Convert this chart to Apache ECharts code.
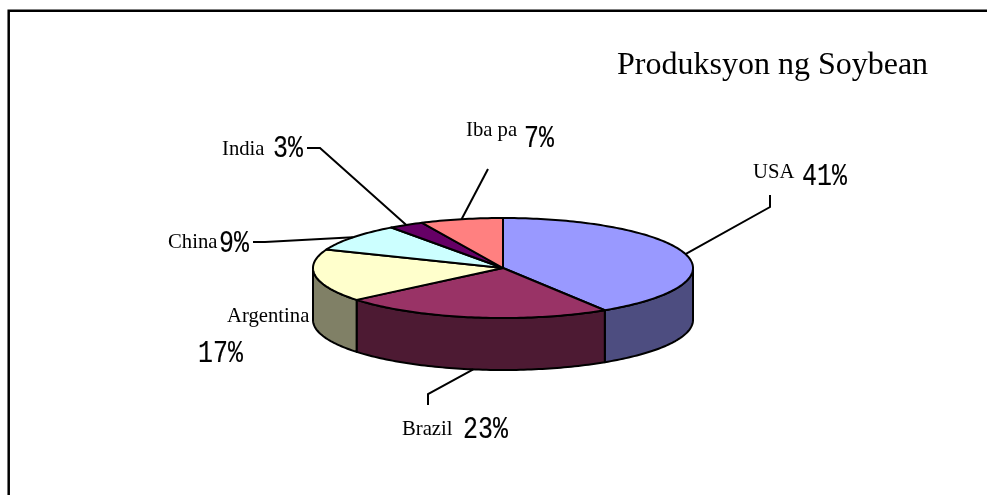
<!DOCTYPE html>
<html>
<head>
<meta charset="utf-8">
<style>html,body{margin:0;padding:0;background:#fff}#c{width:987px;height:495px}</style>
<script src="https://cdn.jsdelivr.net/npm/echarts@6/dist/echarts.min.js"></script>
</head>
<body>
<div id="c"></div>
<script>
const categories = ['USA', 'Brazil', 'Argentina', 'China', 'India', 'Iba pa'];
const shares = [41, 23, 17, 9, 3, 7];
const topColors = ['#9999FF', '#993366', '#FFFFCC', '#CCFFFF', '#660066', '#FF8080'];
const wallColors = ['#4D4D80', '#4D1A33', '#808066', '#668080', '#330033', '#804040'];
const chartTitle = 'Produksyon ng Soybean';

// Label and leader layout, kept apart from the data
const labelLayout = [
  {nameX: 753, nameY: 179, pctX: 802, pctY: 186, leader: [[770, 207], [770, 195]]},
  {nameX: 402, nameY: 436, pctX: 463, pctY: 439, leader: [[428, 394], [428, 405]]},
  {nameX: 227, nameY: 323, pctX: 198, pctY: 363, leader: null},
  {nameX: 168, nameY: 249, pctX: 219, pctY: 253, leader: [[265, 242], [253, 242]]},
  {nameX: 222, nameY: 156, pctX: 273, pctY: 158, leader: [[320, 148], [307, 148]]},
  {nameX: 466, nameY: 137, pctX: 524, pctY: 148, leader: [[488, 169]]}
];

const CX = 503, CY = 268, RX = 190, RY = 50, DEPTH = 52;
const INK = '#000';
const total = shares.reduce((a, b) => a + b, 0);

function angleAt(i) {
  let s = 0;
  for (let k = 0; k < i; k++) s += shares[k];
  return s / total * Math.PI * 2;
}
function rim(a, dz) {
  return [CX + RX * Math.sin(a), CY - RY * Math.cos(a) + (dz || 0)];
}
function arc(a0, a1, dz) {
  const n = Math.max(2, Math.ceil((a1 - a0) / 0.02));
  const pts = [];
  for (let j = 0; j <= n; j++) pts.push(rim(a0 + (a1 - a0) * j / n, dz));
  return pts;
}
const edge = {stroke: INK, lineWidth: 2, lineJoin: 'round'};

function renderWall(params, api) {
  const i = api.value(2);
  const a0 = Math.max(angleAt(i), Math.PI / 2);
  const a1 = Math.min(angleAt(i + 1), Math.PI * 1.5);
  if (a1 <= a0) return {type: 'group', children: []};
  return {
    type: 'polygon',
    shape: {points: arc(a0, a1, 0).concat(arc(a0, a1, DEPTH).reverse())},
    style: Object.assign({fill: wallColors[i]}, edge)
  };
}
function renderTop(params, api) {
  const i = api.value(2);
  return {
    type: 'polygon',
    shape: {points: [[CX, CY]].concat(arc(angleAt(i), angleAt(i + 1), 0))},
    style: Object.assign({fill: topColors[i]}, edge)
  };
}
function textEl(str, x, baseline, font, size, sx, heavy) {
  const style = {text: str, x: 0, y: 0, fill: INK, fontFamily: font, fontSize: size,
                 align: 'left', verticalAlign: 'middle'};
  if (heavy) { style.stroke = INK; style.lineWidth = heavy; }
  return {type: 'text', x: x, y: baseline - size * 0.3, scaleX: sx || 1, style: style};
}
function renderLabel(params, api) {
  const i = api.value(2);
  const L = labelLayout[i];
  const kids = [
    textEl(categories[i], L.nameX, L.nameY, '"Liberation Serif"', 20.7),
    textEl(api.value(1) + '%', L.pctX, L.pctY, '"Liberation Mono"', 32, 0.78, 0.15)
  ];
  if (L.leader) {
    const mid = (angleAt(i) + angleAt(i + 1)) / 2;
    const start = rim(mid, Math.cos(mid) < 0 ? DEPTH : 0);
    kids.push({
      type: 'polyline',
      shape: {points: [start].concat(L.leader)},
      style: {stroke: INK, lineWidth: 2, fill: null, lineJoin: 'miter'}
    });
  }
  return {type: 'group', children: kids};
}

const rows = categories.map((c, i) => [c, shares[i], i]);
const chart = echarts.init(document.getElementById('c'), null, {renderer: 'canvas'});
chart.setOption({
  animation: false,
  backgroundColor: '#fff',
  title: {
    text: chartTitle, left: 617, top: 50, padding: 0,
    textStyle: {fontFamily: '"Liberation Serif"', fontSize: 32, fontWeight: 'normal', color: INK}
  },
  graphic: [{
    type: 'polyline', silent: true,
    shape: {points: [[8.7, 495], [8.7, 10.7], [987, 10.7]]},
    style: {stroke: INK, lineWidth: 2.5, fill: null}
  }],
  series: [
    {type: 'custom', coordinateSystem: 'none', z: 2, data: rows, renderItem: renderWall, silent: true},
    {type: 'custom', coordinateSystem: 'none', z: 3, data: rows, renderItem: renderTop, silent: true},
    {type: 'custom', coordinateSystem: 'none', z: 4, data: rows, renderItem: renderLabel, silent: true}
  ]
});
</script>
</body>
</html>
